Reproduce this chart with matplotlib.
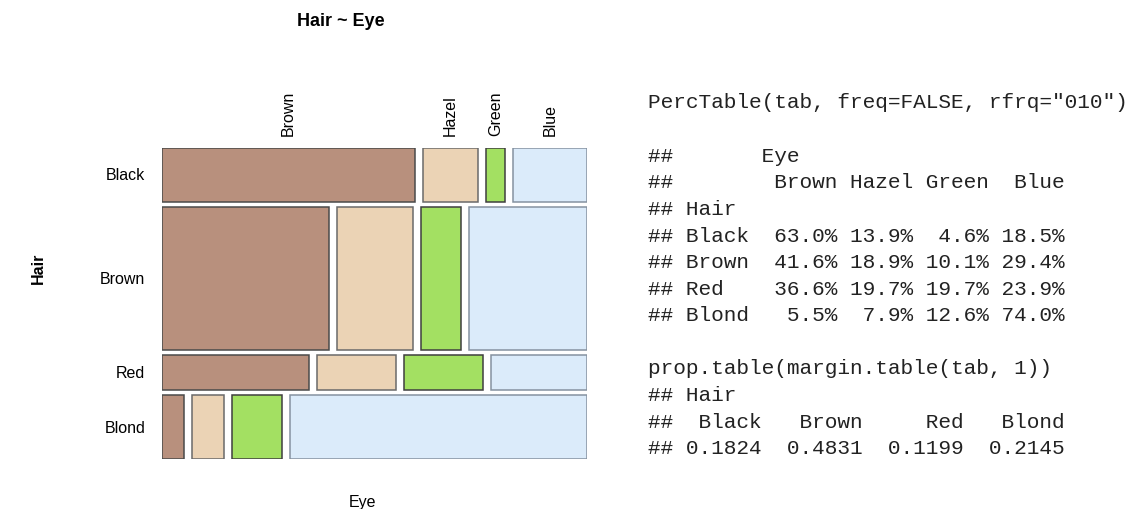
import numpy as np
import matplotlib
matplotlib.use("Agg")
import matplotlib.pyplot as plt

# data
hair = ["Black", "Brown", "Red", "Blond"]
eye = ["Brown", "Hazel", "Green", "Blue"]
hair_prop = [0.1824, 0.4831, 0.1199, 0.2145]
row_pct = [
    [63.0, 13.9, 4.6, 18.5],
    [41.6, 18.9, 10.1, 29.4],
    [36.6, 19.7, 19.7, 23.9],
    [5.5, 7.9, 12.6, 74.0],
]
eye_cols = ["#B8907D", "#EBD3B5", "#A3E062", "#DBEBFA"]
edge_cols = ["#4a4a4a", "#6a6a6a", "#3f3f3f", "#8592a0"]

plt.rcParams['font.family'] = ['Liberation Sans', 'DejaVu Sans']

fig = plt.figure(figsize=(11.33, 5.10), dpi=100)
ax = fig.add_axes([162 / 1133, 50 / 510, 425 / 1133, 311 / 510])

gx = 0.02   # horizontal gap between tiles
gy = 0.017  # vertical gap between rows
top = 1 + 3 * gy
y = top
for i, h in enumerate(hair):
    hgt = hair_prop[i]
    y0 = y - hgt
    x = 0.0
    for j, e in enumerate(eye):
        w = row_pct[i][j] / 100.0
        ax.barh(y0 + hgt / 2, w, height=hgt, left=x, color=eye_cols[j],
                edgecolor=edge_cols[j], linewidth=1.1)
        if i == 0:
            ax.text(x + w / 2, top + 0.045, e, rotation=90, ha='center',
                    va='bottom', fontsize=11.5, clip_on=False)
        x += w + gx
    ax.text(-0.042, y0 + hgt / 2, h, ha='right', va='center', fontsize=11.5)
    y = y0 - gy

ax.set_xlim(0, 1 + 3 * gx)
ax.set_ylim(0, top)
ax.axis('off')

fig.text(341 / 1133, 1 - 22 / 510, "Hair ~ Eye", ha='center', va='center',
         fontsize=13, fontweight='bold')
fig.text(38 / 1133, 1 - 268 / 510, "Hair", rotation=90, ha='center',
         va='center', fontsize=11.5, fontweight='bold')
fig.text(362 / 1133, 1 - 503 / 510, "Eye", ha='center', va='center',
         fontsize=11.5)

# console output on the right
lines = ['PercTable(tab, freq=FALSE, rfrq="010")', '',
         '##' + ' ' * 7 + 'Eye',
         '## ' + ' ' * 6 + ''.join(f"{e:>6}" for e in eye),
         '## Hair']
for h, row in zip(hair, row_pct):
    lines.append(f"## {h:<6}" + ''.join(f"{v:5.1f}%".rjust(6) for v in row))
lines += ['', 'prop.table(margin.table(tab, 1))', '## Hair',
          '## ' + '  '.join(f"{h:>6}" for h in hair),
          '## ' + '  '.join(f"{p:.4f}" for p in hair_prop)]

for k, s in enumerate(lines):
    fig.text(648 / 1133, 1 - (103 + 26.6 * k) / 510, s, ha='left',
             va='center', fontsize=15.2, family='Liberation Mono',
             color='#222222')

fig.savefig("out.png", dpi=100)
